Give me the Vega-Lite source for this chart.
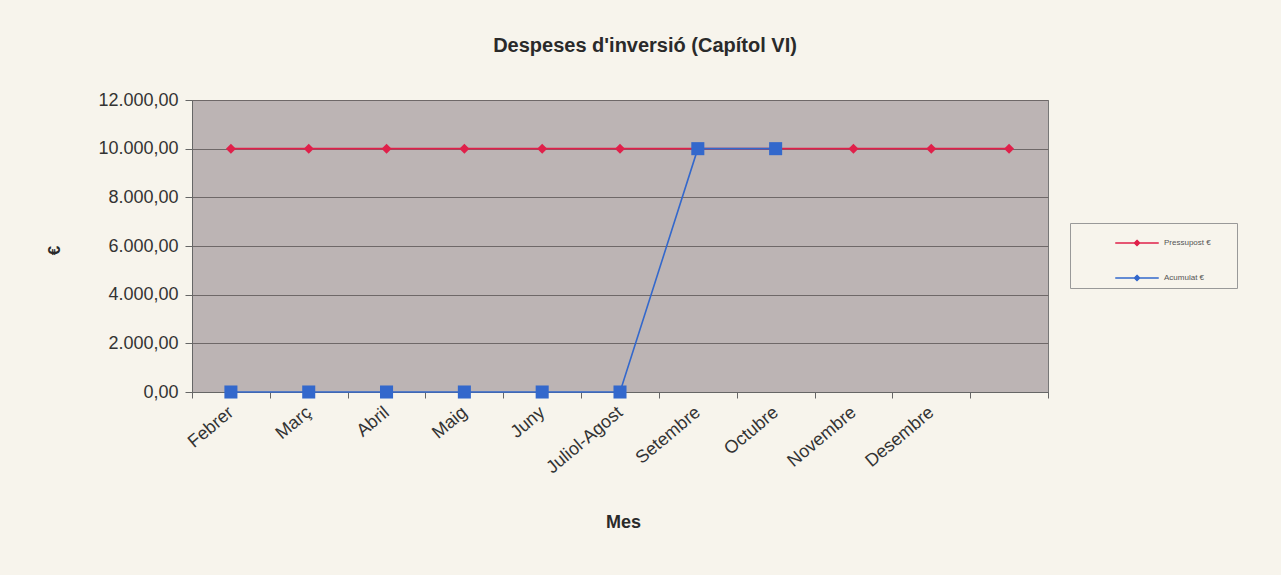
{
  "$schema": "https://vega.github.io/schema/vega-lite/v6.json",
  "autosize": "none",
  "width": 856,
  "height": 292,
  "padding": {"left": 192, "top": 100, "right": 233, "bottom": 183},
  "background": "#f7f4ec",
  "config": {
    "font": "Liberation Sans",
    "locale": {"number": {"decimal": ",", "thousands": ".", "grouping": [3], "currency": ["", " €"]}},
    "view": {"fill": "#bcb4b4", "stroke": "#777777", "strokeWidth": 1}
  },
  "title": {
    "text": "Despeses d'inversió (Capítol VI)",
    "fontSize": 20,
    "fontWeight": "bold",
    "color": "#2a2a2a",
    "anchor": "middle",
    "dx": 25,
    "offset": 35
  },
  "data": {
    "values": [
      {"mes": "Febrer", "serie": "Pressupost €", "valor": 10000},
      {"mes": "Març", "serie": "Pressupost €", "valor": 10000},
      {"mes": "Abril", "serie": "Pressupost €", "valor": 10000},
      {"mes": "Maig", "serie": "Pressupost €", "valor": 10000},
      {"mes": "Juny", "serie": "Pressupost €", "valor": 10000},
      {"mes": "Juliol-Agost", "serie": "Pressupost €", "valor": 10000},
      {"mes": "Setembre", "serie": "Pressupost €", "valor": 10000},
      {"mes": "Octubre", "serie": "Pressupost €", "valor": 10000},
      {"mes": "Novembre", "serie": "Pressupost €", "valor": 10000},
      {"mes": "Desembre", "serie": "Pressupost €", "valor": 10000},
      {"mes": " ", "serie": "Pressupost €", "valor": 10000},
      {"mes": "Febrer", "serie": "Acumulat €", "valor": 0},
      {"mes": "Març", "serie": "Acumulat €", "valor": 0},
      {"mes": "Abril", "serie": "Acumulat €", "valor": 0},
      {"mes": "Maig", "serie": "Acumulat €", "valor": 0},
      {"mes": "Juny", "serie": "Acumulat €", "valor": 0},
      {"mes": "Juliol-Agost", "serie": "Acumulat €", "valor": 0},
      {"mes": "Setembre", "serie": "Acumulat €", "valor": 10000},
      {"mes": "Octubre", "serie": "Acumulat €", "valor": 10000}
    ]
  },
  "encoding": {
    "x": {
      "field": "mes",
      "type": "nominal",
      "sort": ["Febrer", "Març", "Abril", "Maig", "Juny", "Juliol-Agost", "Setembre", "Octubre", "Novembre", "Desembre", " "],
      "scale": {"type": "band", "paddingInner": 0, "paddingOuter": 0},
      "axis": {
        "title": "Mes",
        "titleFontSize": 18,
        "titleFontWeight": "bold",
        "titleColor": "#2a2a2a",
        "titleX": 431,
        "titleY": 121,
        "labelAngle": -40,
        "labelAlign": "right",
        "labelBaseline": "middle",
        "labelFontSize": 18,
        "labelColor": "#333333",
        "labelPadding": 12,
        "tickBand": "extent",
        "tickSize": 6,
        "tickColor": "#666666",
        "domainColor": "#666666",
        "grid": false
      }
    },
    "y": {
      "field": "valor",
      "type": "quantitative",
      "scale": {"domain": [0, 12000], "nice": false},
      "axis": {
        "title": "€",
        "titleFontSize": 17,
        "titleFontWeight": "bold",
        "titleColor": "#2a2a2a",
        "titleAngle": -90,
        "titleX": -129,
        "titleY": 150,
        "values": [0, 2000, 4000, 6000, 8000, 10000, 12000],
        "format": ",.2f",
        "labelFontSize": 18,
        "labelColor": "#333333",
        "labelPadding": 7,
        "tickSize": 7,
        "tickColor": "#666666",
        "domainColor": "#666666",
        "grid": true,
        "gridColor": "#6e6868",
        "gridWidth": 1
      }
    },
    "color": {
      "field": "serie",
      "type": "nominal",
      "sort": ["Pressupost €", "Acumulat €"],
      "scale": {"domain": ["Pressupost €", "Acumulat €"], "range": ["#e0204a", "#3368cc"]},
      "legend": {
        "title": null,
        "orient": "none",
        "legendX": 878,
        "legendY": 123,
        "fillColor": "#f7f4ec",
        "strokeColor": "#999999",
        "padding": 4,
        "symbolOffset": 47,
        "rowPadding": 13,
        "labelFontSize": 8,
        "labelColor": "#555555",
        "labelOffset": 11,
        "labelExpr": "datum.label + '\u00a0\u00a0\u00a0\u00a0\u00a0\u00a0\u00a0\u00a0\u00a0\u00a0\u200b'",
        "symbolType": "M-1.45,0H1.45M0,-0.18L0.18,0L0,0.18L-0.18,0Z",
        "symbolSize": 900,
        "symbolStrokeWidth": 1.3
      }
    }
  },
  "layer": [
    {
      "mark": {"type": "line", "strokeWidth": 1.6},
      "encoding": {"detail": {"field": "serie"}}
    },
    {
      "transform": [{"filter": "datum.serie === 'Pressupost €'"}],
      "mark": {"type": "point", "filled": true, "opacity": 1, "shape": "diamond", "size": 100}
    },
    {
      "transform": [{"filter": "datum.serie === 'Acumulat €'"}],
      "mark": {"type": "point", "filled": true, "opacity": 1, "shape": "square", "size": 170}
    }
  ]
}
